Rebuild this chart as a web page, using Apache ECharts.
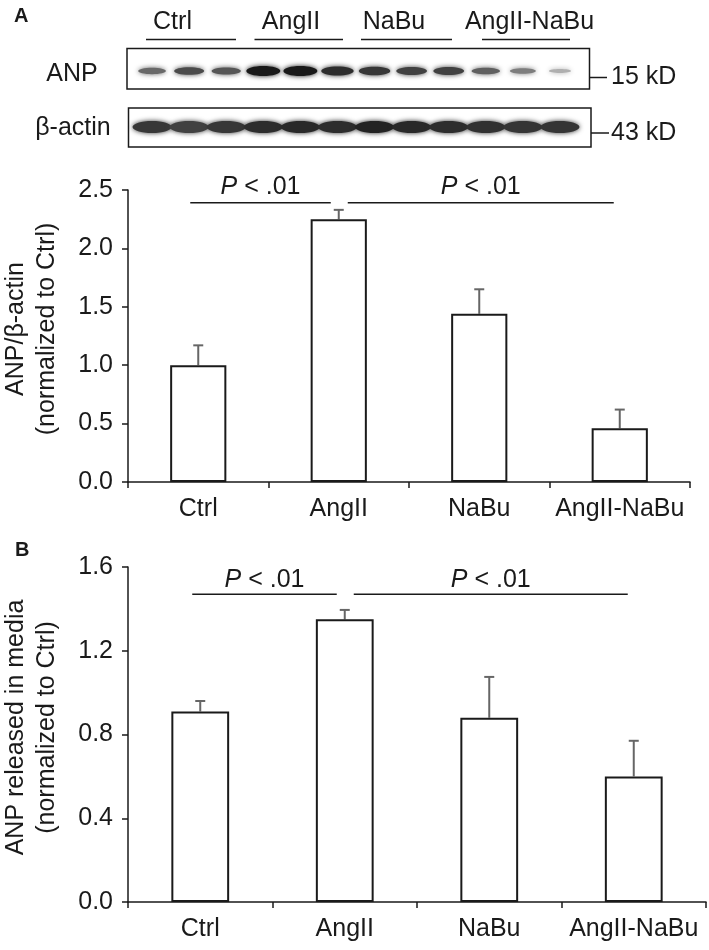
<!DOCTYPE html>
<html>
<head>
<meta charset="utf-8">
<script src="https://cdn.jsdelivr.net/npm/echarts@6/dist/echarts.min.js"></script>
<style>html,body{margin:0;padding:0;background:#fff}#c{width:709px;height:950px}</style>
</head>
<body>
<div id="c"></div>
<script>
// ---------- data ----------
const categories = ['Ctrl', 'AngII', 'NaBu', 'AngII-NaBu'];
// Panel A: ANP/beta-actin (normalized to Ctrl)
const ratioMean = [1.00, 2.25, 1.44, 0.46];
const ratioErr  = [0.17, 0.08, 0.21, 0.16];
// Panel B: ANP released in media (normalized to Ctrl)
const mediaMean = [0.91, 1.35, 0.88, 0.60];
const mediaErr  = [0.05, 0.045, 0.195, 0.17];
// significance brackets: [fromCategory, toCategory, level]
const bracketsA = [[0, 1, 2.39], [1, 3, 2.39]];
const bracketsB = [[0, 1, 1.47], [1, 3, 1.47]];
const bracketLabel = 'P < .01';
// Western blot band intensity per lane (3 lanes per group)
const anpBand   = [0.6, 0.75, 0.7, 1.0, 1.0, 0.9, 0.85, 0.8, 0.8, 0.65, 0.5, 0.25];
const actinBand = [0.85, 0.8, 0.85, 0.9, 0.92, 0.9, 0.95, 0.92, 0.9, 0.88, 0.86, 0.86];

// ---------- styling ----------
const FONT = 'Liberation Sans, Arial, Helvetica, sans-serif';
const INK = '#1a1a1a';
const chart = echarts.init(document.getElementById('c'), null, {renderer: 'canvas'});

function xAxisCat(gi) {
  return {
    gridIndex: gi, type: 'category', data: categories, boundaryGap: true,
    axisLine: {lineStyle: {color: INK, width: 1.5}},
    axisTick: {show: true, length: 6, inside: false, lineStyle: {color: INK, width: 1.5}},
    axisLabel: {color: INK, fontSize: 25, fontFamily: FONT, margin: 15, interval: 0, hideOverlap: false}
  };
}
function yAxisVal(gi, max, interval, name, pad) {
  return {
    gridIndex: gi, type: 'value', min: 0, max: max, interval: interval,
    axisLine: {show: true, lineStyle: {color: INK, width: 1.5}},
    axisTick: {show: true, length: 6, lineStyle: {color: INK, width: 1.5}},
    splitLine: {show: false},
    axisLabel: {color: INK, fontSize: 25, fontFamily: FONT, margin: 15,
      formatter: v => v.toFixed(1)},
    name: name, nameLocation: 'middle', nameRotate: 90, nameGap: 65,
    nameMoveOverlap: false,
    nameTextStyle: {color: INK, fontSize: 25, fontFamily: FONT, lineHeight: 31,
      padding: [0, 0, 0, pad]}
  };
}
function barSeries(xi, yi, values) {
  return {
    type: 'bar', xAxisIndex: xi, yAxisIndex: yi, data: values, barWidth: '40%',
    itemStyle: {color: '#fff', borderColor: INK, borderWidth: 2}, z: 3,
    silent: true
  };
}
function errorSeries(xi, yi, means, errs) {
  return {
    type: 'custom', xAxisIndex: xi, yAxisIndex: yi, clip: false, z: 2, silent: true,
    data: means.map((m, i) => [i, m, m + errs[i]]),
    encode: {x: 0, y: [1, 2]},
    renderItem: (params, api) => {
      const lo = api.coord([api.value(0), api.value(1)]);
      const hi = api.coord([api.value(0), api.value(2)]);
      const st = {stroke: '#666', lineWidth: 2};
      return {type: 'group', children: [
        {type: 'line', shape: {x1: lo[0], y1: lo[1], x2: hi[0], y2: hi[1]}, style: st},
        {type: 'line', shape: {x1: hi[0] - 5, y1: hi[1], x2: hi[0] + 5, y2: hi[1]}, style: st}
      ]};
    }
  };
}
function bracketSeries(xi, yi, brackets, textLift) {
  return {
    type: 'custom', xAxisIndex: xi, yAxisIndex: yi, clip: false, z: 4, silent: true,
    data: brackets,
    encode: {x: [0, 1], y: 2},
    renderItem: (params, api) => {
      const a = api.coord([api.value(0), api.value(2)]);
      const b = api.coord([api.value(1), api.value(2)]);
      const x1 = a[0] + (api.value(0) === 1 ? 9 : -8);
      const x2 = b[0] + (api.value(1) === 1 ? -8 : -6);
      const y = a[1];
      return {type: 'group', children: [
        {type: 'line', shape: {x1: x1, y1: y, x2: x2, y2: y}, style: {stroke: INK, lineWidth: 1.5}},
        {type: 'text', x: (x1 + x2) / 2, y: y - textLift, style: {
          text: '{i|P}' + bracketLabel.slice(1), fill: INK,
          font: '25px ' + FONT, align: 'center', verticalAlign: 'middle',
          rich: {i: {fontStyle: 'italic', fontSize: 25, fontFamily: FONT, fill: INK}}
        }}
      ]};
    }
  };
}
function bandSeries(xi, yi, bands, isActin) {
  return {
    type: 'custom', xAxisIndex: xi, yAxisIndex: yi, clip: false, silent: true,
    data: bands.map((v, i) => [i + 0.5, v]),
    encode: {x: 0, y: 1},
    renderItem: (params, api) => {
      const p = api.coord([api.value(0), 0.5]);
      const I = api.value(1);
      const g = Math.round(200 * (1 - I) + 25);
      const col = 'rgb(' + g + ',' + g + ',' + g + ')';
      const rx = isActin ? 19.5 : 9 + 8 * I;
      const ry = isActin ? 6.0 : 1.5 + 3.5 * Math.pow(I, 1.5);
      return {type: 'ellipse', shape: {cx: p[0], cy: p[1] + (isActin ? -0.5 : 2.5), rx: rx, ry: ry},
        style: {fill: col, shadowBlur: 5, shadowColor: col}};
    }
  };
}

const hiddenVal = (gi, min, max) => ({gridIndex: gi, type: 'value', min: min, max: max, show: false});

function txt(x, y, text, align, extra) {
  return Object.assign({type: 'text', x: x, y: y, style: {
    text: text, fill: INK, font: '25px ' + FONT,
    textAlign: align || 'center', textVerticalAlign: 'middle',
    align: align || 'center', verticalAlign: 'middle'}}, extra || {});
}
function hline(x1, x2, y) {
  return {type: 'line', shape: {x1: x1, y1: y, x2: x2, y2: y}, style: {stroke: INK, lineWidth: 1.5}};
}

const gridBase = {containLabel: false, outerBoundsMode: 'none'};
const option = {
  backgroundColor: '#fff',
  animation: false,
  grid: [
    Object.assign({left: 128, top: 190, width: 562, height: 292}, gridBase),
    Object.assign({left: 128, top: 567, width: 578, height: 335}, gridBase),
    Object.assign({left: 133.5, top: 48, width: 445, height: 41}, gridBase),
    Object.assign({left: 133.5, top: 108, width: 445, height: 39}, gridBase)
  ],
  xAxis: [xAxisCat(0), xAxisCat(1), hiddenVal(2, 0, 12), hiddenVal(3, 0, 12)],
  yAxis: [
    yAxisVal(0, 2.5, 0.5, 'ANP/β-actin\n(normalized to Ctrl)', 14),
    yAxisVal(1, 1.6, 0.4, 'ANP released in media\n(normalized to Ctrl)', 14),
    hiddenVal(2, 0, 1), hiddenVal(3, 0, 1)
  ],
  series: [
    barSeries(0, 0, ratioMean),
    errorSeries(0, 0, ratioMean, ratioErr),
    bracketSeries(0, 0, bracketsA, 16),
    barSeries(1, 1, mediaMean),
    errorSeries(1, 1, mediaMean, mediaErr),
    bracketSeries(1, 1, bracketsB, 14),
    bandSeries(2, 2, anpBand, false),
    bandSeries(3, 3, actinBand, true)
  ],
  graphic: [
    {type: 'text', x: 14, y: 16, style: {text: 'A', fill: INK, font: 'bold 20px ' + FONT,
      textAlign: 'left', textVerticalAlign: 'middle', align: 'left', verticalAlign: 'middle'}},
    {type: 'text', x: 15, y: 550, style: {text: 'B', fill: INK, font: 'bold 20px ' + FONT,
      textAlign: 'left', textVerticalAlign: 'middle', align: 'left', verticalAlign: 'middle'}},
    // blot group header
    txt(172.5, 22, 'Ctrl'), txt(291, 22, 'AngII'), txt(394, 22, 'NaBu'), txt(529.5, 22, 'AngII-NaBu'),
    hline(146, 236, 39.5), hline(254.5, 343, 39.5), hline(361, 452, 39.5), hline(482, 570, 39.5),
    // blot frames
    {type: 'rect', shape: {x: 127, y: 48.5, width: 462.5, height: 40.5}, style: {fill: 'none', stroke: INK, lineWidth: 1.5}},
    {type: 'rect', shape: {x: 128.5, y: 108, width: 462.5, height: 39}, style: {fill: 'none', stroke: INK, lineWidth: 1.5}},
    // row labels
    txt(72, 74, 'ANP'), txt(73, 128, 'β-actin'),
    // size markers
    hline(589.5, 607, 77.5), txt(611, 77.5, '15 kD', 'left'),
    hline(591, 609, 133), txt(611, 133, '43 kD', 'left')
  ]
};
chart.setOption(option);
</script>
</body>
</html>
